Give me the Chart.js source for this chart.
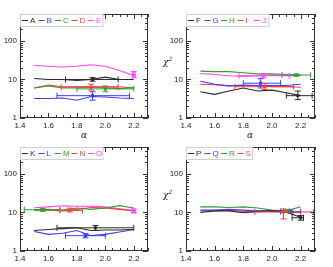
<!DOCTYPE html>
<html>
<head>
<meta charset="utf-8">
<script src="https://cdn.jsdelivr.net/npm/chart.js@4.4.1/dist/chart.umd.min.js"></script>
<style>
  body { margin: 0; background: #fff; }
  #wrap { position: relative; width: 333px; height: 267px; overflow: hidden; }
  .cell { position: absolute; }
  .lab { position: absolute; font-family: "DejaVu Serif", serif; font-style: italic; font-size: 9px; color: #222; line-height: 1; }
  .lab sup { font-size: 6px; }
</style>
</head>
<body>
<div id="wrap">
  <div class="cell" style="left:0;top:0"><canvas id="p1" width="166" height="133"></canvas></div>
  <div class="cell" style="left:166px;top:0"><canvas id="p2" width="167" height="133"></canvas></div>
  <div class="cell" style="left:0;top:133px"><canvas id="p3" width="166" height="134"></canvas></div>
  <div class="cell" style="left:166px;top:133px"><canvas id="p4" width="167" height="134"></canvas></div>
  <span class="lab" style="left:81px;top:131px">α</span>
  <span class="lab" style="left:247px;top:131px">α</span>
  <span class="lab" style="left:163px;top:56px">χ<sup>2</sup></span>
  <span class="lab" style="left:163px;top:189px">χ<sup>2</sup></span>
</div>
<script>
// alpha grid shared by every curve
const alpha = [1.5, 1.6, 1.7, 1.8, 1.9, 2.0, 2.1, 2.2];
const xLabels = [1.4, 1.6, 1.8, 2.0, 2.2];
const yLabels = [1, 10, 100];

// chi^2 curves, panel 1
const chiA = [10.6, 10, 10, 9.5, 10, 11.5, 10, 10];
const chiB = [3.2, 3.2, 3.3, 2.9, 3.6, 3.5, 3.3, 3.2];
const chiC = [6, 6.8, 6, 6, 6.5, 6, 5.8, 6.2];
const chiD = [6, 7.2, 6.5, 6.5, 6.5, 6.5, 6.5, 6];
const chiE = [23, 22, 21, 22, 24, 22, 17, 12.5];
// panel 2
const chiF = [4.8, 4.1, 5, 6, 5, 5.3, 4.5, 3.8];
const chiG = [9, 7.5, 6.8, 7.2, 7, 7, 7, 7.5];
const chiH = [16.5, 16, 16, 15, 14, 14, 13.5, 13];
const chiI = [7.5, 7.3, 6.8, 7, 7, 6.5, 6.5, 6.3];
const chiJ = [14.3, 13.5, 12.5, 12, 12.5, 13, 12.5, 12.5];
// panel 3
const chiK = [3.4, 3.6, 3.8, 4, 3.4, 3.5, 3.5, 3.6];
const chiL = [3.2, 2.7, 2.9, 3.4, 2.5, 2.7, 3.1, 3.6];
const chiM = [11.5, 12, 11.5, 13, 12, 13, 15, 13];
const chiN = [11.5, 11.5, 11, 12, 13.5, 13, 12, 11];
const chiO = [13.3, 14, 15, 14.5, 14.5, 14, 12.5, 11.3];
// panel 4
const chiP = [10, 11, 11, 9.8, 10.5, 11, 10.2, 7.5];
const chiQ = [11.5, 11.5, 12, 11.5, 11, 11, 11, 10];
const chiR = [14, 14, 13.5, 14, 13, 11.5, 11, 14];
const chiS = [11, 11, 11.5, 10.5, 11, 10.5, 10.5, 10];

// best-fit points: [alpha, alphaLo, alphaHi, chi2, chi2Lo, chi2Hi]
const errA = [1.91, 1.72, 2.09, 10, 9, 11.2];
const errB = [1.91, 1.66, 2.17, 3.8, 2.9, 4.8];
const errC = [2.0, 1.8, 2.2, 5.7, 4.8, 6.8];
const errD = [1.9, 1.69, 2.09, 6.3, 5.3, 7.5];
const errE = [2.2, 2.19, 2.21, 13, 11, 16];
const errF = [2.18, 2.1, 2.28, 3.8, 3.0, 5.0];
const errG = [1.92, 1.8, 2.06, 8.0, 6.0, 10.5];
const errH = [2.17, 2.07, 2.27, 13, 12.2, 13.8];
const errI = [1.95, 1.74, 2.15, 6.5, 5.5, 7.8];
const errJ = [1.94, 1.77, 2.12, 12.5, 11, 14];
const errK = [1.93, 1.66, 2.2, 4.0, 3.4, 4.6];
const errL = [1.86, 1.72, 2.0, 2.5, 2.2, 2.8];
const errM = [1.56, 1.43, 1.68, 11.8, 10.7, 12.5];
const errN = [1.75, 1.68, 1.84, 11.3, 10.3, 13];
const errO = [2.2, 2.19, 2.21, 11, 9.8, 12.3];
const errP = [2.2, 2.14, 2.22, 7.3, 6.3, 8.3];
const errQ = [2.13, 2.06, 2.2, 10.5, 9.6, 11.5];
const errR = [2.1, 2.08, 2.12, 11, 10.3, 11.7];
const errS = [2.08, 1.88, 2.29, 10.3, 6.8, 12.3];

const colors = ['#2a2a2a', '#3c3cff', '#2f9e2f', '#ff3c3c', '#ff44ff'];
const fontFamily = '"Liberation Sans", Arial, sans-serif';
const tickFont = { family: fontFamily, size: 8 };

// frame with inward ticks on all four sides, plus the boxed legend
const frame = {
  id: 'frame',
  afterDraw(chart) {
    const { ctx, chartArea: a, scales: { x, y } } = chart;
    ctx.save();
    ctx.strokeStyle = '#333';
    ctx.lineWidth = 1;
    ctx.strokeRect(Math.round(a.left) + 0.5, Math.round(a.top) + 0.5, Math.round(a.right - a.left) - 1, Math.round(a.bottom - a.top) - 1);
    ctx.beginPath();
    for (let d = 1; d <= 100; d *= 10) {
      for (let m = 1; m <= 9; m++) {
        const v = d * m;
        if (v > y.max) break;
        const py = Math.round(y.getPixelForValue(v)) + 0.5;
        const len = m === 1 ? 5 : 3;
        ctx.moveTo(a.left, py); ctx.lineTo(a.left + len, py);
        ctx.moveTo(a.right, py); ctx.lineTo(a.right - len, py);
      }
    }
    for (let i = 0; i <= 18; i++) {
      const v = 1.4 + i * 0.05;
      const px = Math.round(x.getPixelForValue(v)) + 0.5;
      const len = i % 4 === 0 ? 5 : 3;
      ctx.moveTo(px, a.bottom); ctx.lineTo(px, a.bottom - len);
      ctx.moveTo(px, a.top); ctx.lineTo(px, a.top + len);
    }
    ctx.stroke();

    // legend: short line + coloured letter per series
    const ds = chart.data.datasets;
    const pitch = 16.5, lx = Math.round(a.left), ly = Math.round(a.top);
    ctx.fillStyle = '#fff';
    ctx.fillRect(lx + 1, ly + 1, ds.length * pitch - 1, 11);
    ctx.strokeStyle = '#d0d0d0';
    ctx.strokeRect(lx + 0.5, ly + 0.5, ds.length * pitch, 12);
    ctx.font = '8px ' + fontFamily;
    ctx.textBaseline = 'middle';
    ds.forEach((d, i) => {
      const x0 = lx + 2 + i * pitch;
      ctx.strokeStyle = d.borderColor;
      ctx.beginPath();
      ctx.moveTo(x0, ly + 6.5); ctx.lineTo(x0 + 6, ly + 6.5);
      ctx.stroke();
      ctx.fillStyle = d.borderColor;
      ctx.fillText(d.label, x0 + 8, ly + 6.5);
    });
    ctx.restore();
  }
};

const errbars = {
  id: 'errbars',
  afterDatasetsDraw(chart, args, opts) {
    const { ctx, scales: { x, y } } = chart;
    ctx.save();
    ctx.lineWidth = 1;
    opts.items.forEach(([e, c]) => {
      const px = x.getPixelForValue(e[0]), pl = x.getPixelForValue(e[1]), pr = x.getPixelForValue(e[2]);
      const py = y.getPixelForValue(e[3]), pb = y.getPixelForValue(e[4]), pt = y.getPixelForValue(e[5]);
      ctx.strokeStyle = c;
      ctx.fillStyle = c;
      ctx.beginPath();
      ctx.moveTo(pl, py); ctx.lineTo(pr, py);
      ctx.moveTo(pl, py - 3); ctx.lineTo(pl, py + 3);
      ctx.moveTo(pr, py - 3); ctx.lineTo(pr, py + 3);
      ctx.moveTo(px, pb); ctx.lineTo(px, pt);
      ctx.moveTo(px - 3, pb); ctx.lineTo(px + 3, pb);
      ctx.moveTo(px - 3, pt); ctx.lineTo(px + 3, pt);
      ctx.stroke();
      ctx.fillRect(px - 1.5, py - 1.5, 3, 3);
    });
    ctx.restore();
  }
};

function panel(id, names, series, errs, h) {
  new Chart(document.getElementById(id), {
    type: 'line',
    data: {
      labels: alpha,
      datasets: series.map((s, i) => ({
        label: names[i],
        data: s.map((v, k) => ({ x: alpha[k], y: v })),
        borderColor: colors[i],
        backgroundColor: colors[i],
        borderWidth: 1.1,
        pointRadius: 0,
        tension: 0
      }))
    },
    options: {
      responsive: false,
      animation: false,
      devicePixelRatio: 1,
      layout: { padding: { top: 14, right: 18, left: 0, bottom: 0 } },
      plugins: {
        tooltip: { enabled: false },
        legend: { display: false },
        errbars: { items: errs.map((e, i) => [e, colors[i]]) }
      },
      scales: {
        x: {
          type: 'linear', min: 1.4, max: 2.3,
          grid: { display: false, drawTicks: false },
          border: { display: false },
          afterBuildTicks: s => { s.ticks = xLabels.map(v => ({ value: v })); },
          ticks: { font: tickFont, color: '#222', padding: 3, maxRotation: 0, autoSkip: false,
            callback: v => v.toFixed(1) },
          afterFit: s => { s.height = h - 118; }
        },
        y: {
          type: 'logarithmic', min: 1, max: 500,
          grid: { display: false, drawTicks: false },
          border: { display: false },
          afterBuildTicks: s => { s.ticks = yLabels.map(v => ({ value: v })); },
          ticks: { font: tickFont, color: '#222', padding: 3, autoSkip: false,
            callback: v => String(v) },
          afterFit: s => { s.width = 20; }
        }
      }
    },
    plugins: [frame, errbars]
  });
}

panel('p1', ['A', 'B', 'C', 'D', 'E'], [chiA, chiB, chiC, chiD, chiE], [errA, errB, errC, errD, errE], 133);
panel('p2', ['F', 'G', 'H', 'I', 'J'], [chiF, chiG, chiH, chiI, chiJ], [errF, errG, errH, errI, errJ], 133);
panel('p3', ['K', 'L', 'M', 'N', 'O'], [chiK, chiL, chiM, chiN, chiO], [errK, errL, errM, errN, errO], 134);
panel('p4', ['P', 'Q', 'R', 'S'], [chiP, chiQ, chiR, chiS], [errP, errQ, errR, errS], 134);
</script>
</body>
</html>
